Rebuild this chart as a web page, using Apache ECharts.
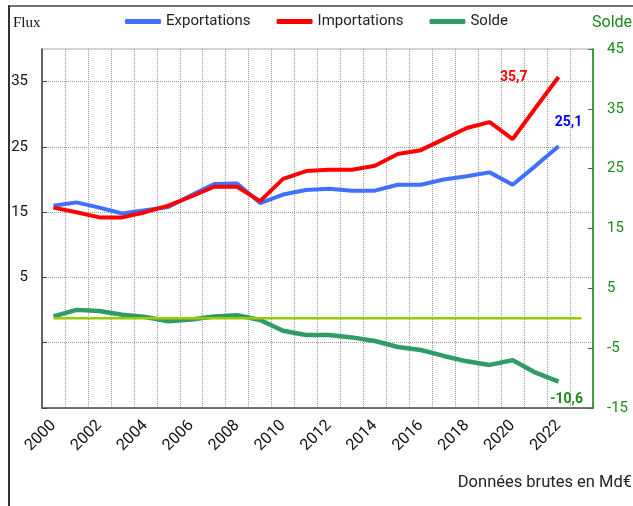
<!DOCTYPE html>
<html>
<head>
<meta charset="utf-8">
<script src="https://cdn.jsdelivr.net/npm/echarts@6/dist/echarts.min.js"></script>
<style>
html,body{margin:0;padding:0;background:#fff;}
#chart{width:633px;height:506px;}
</style>
</head>
<body>
<div id="chart"></div>
<script>
var years = ['2000','2001','2002','2003','2004','2005','2006','2007','2008','2009','2010','2011','2012','2013','2014','2015','2016','2017','2018','2019','2020','2021','2022','2023'];
var exportations = [16.0,16.5,15.7,14.8,15.3,15.8,17.6,19.3,19.4,16.4,17.7,18.4,18.6,18.3,18.3,19.2,19.2,20.0,20.5,21.1,19.2,22.1,25.1];
var importations = [15.7,15.0,14.2,14.2,15.0,16.0,17.4,18.9,18.9,16.7,20.1,21.3,21.5,21.5,22.1,23.9,24.5,26.2,27.9,28.8,26.2,31.0,35.7];
var solde = [0.3,1.4,1.2,0.6,0.2,-0.5,-0.2,0.3,0.5,-0.3,-2.1,-2.8,-2.8,-3.2,-3.8,-4.8,-5.3,-6.3,-7.2,-7.8,-7.0,-9.1,-10.6];
var zeroLine = [0,0,0,0,0,0,0,0,0,0,0,0,0,0,0,0,0,0,0,0,0,0,0,0];
var fluxTicks = [-15,-5,5,15,25,35];
var fluxLabels = [5,15,25,35];
var soldeTicks = [-15,-5,5,15,25,35,45];

function fr(v){ return String(v).replace('.', ','); }
function withLastLabel(arr, labelCfg){
  return arr.map(function(v,i){
    if(i === arr.length-1){ return {value:v, label:labelCfg}; }
    return v;
  });
}

var chart = echarts.init(document.getElementById('chart'), null, {renderer:'canvas'});
var font = 'Roboto';
chart.setOption({
  backgroundColor:'#ffffff',
  animation:false,
  textStyle:{fontFamily:font},
  legend:{
    top:9, left:'center',
    itemGap:26, itemWidth:36, itemHeight:5,
    textStyle:{fontSize:15, color:'#222', fontFamily:font},
    data:[
      {name:'Exportations', icon:'roundRect'},
      {name:'Importations', icon:'roundRect'},
      {name:'Solde', icon:'roundRect'}
    ]
  },
  grid:{left:42, right:40, top:49, bottom:98, containLabel:false, outerBoundsMode:'none',
        show:true, borderColor:'#aaa', borderWidth:1, backgroundColor:'transparent'},
  xAxis:{
    type:'category', data:years, boundaryGap:true,
    axisLine:{show:true, onZero:false, lineStyle:{color:'#555', width:1.5}},
    axisTick:{show:false},
    axisLabel:{interval:1, rotate:45, margin:15, fontSize:16, color:'#111', fontFamily:font},
    splitLine:{show:true, interval:0, lineStyle:{color:'#999', type:'dotted', width:1}}
  },
  yAxis:[
    {
      type:'value', min:-15, max:40, position:'left',
      axisLine:{show:true, lineStyle:{color:'#444', width:1.5}},
      axisTick:{show:true, inside:true, length:5, customValues:fluxTicks, lineStyle:{color:'#444'}},
      axisLabel:{customValues:fluxLabels, fontSize:15, color:'#111', margin:14, fontFamily:font},
      splitLine:{show:true, lineStyle:{color:'#999', type:'dotted', width:1}}
    },
    {
      type:'value', min:-15, max:45, position:'right',
      axisLine:{show:true, lineStyle:{color:'#1a8a1a', width:1.5}},
      axisTick:{show:true, inside:true, length:5, customValues:soldeTicks, lineStyle:{color:'#1a8a1a'}},
      axisLabel:{customValues:soldeTicks, fontSize:15, color:'#1a8a1a', margin:14, fontFamily:font},
      splitLine:{show:false}
    }
  ],
  graphic:[
    {type:'line', shape:{x1:9, y1:5, x2:9, y2:506}, style:{stroke:'#333', lineWidth:2}},
    {type:'line', shape:{x1:8, y1:6, x2:633, y2:6}, style:{stroke:'#444', lineWidth:1.5}},
    {type:'text', left:13, top:16, style:{text:'Flux', font:'15px "Liberation Serif"', fill:'#111'}},
    {type:'text', left:592, top:15, style:{text:'Solde', font:'16px Roboto', fill:'#1a8a1a'}},
    {type:'text', right:1, top:474, style:{text:'Données brutes en Md€', font:'16.5px Roboto', fill:'#222'}}
  ],
  series:[
    {
      name:'Exportations', type:'line', yAxisIndex:0, symbol:'circle', symbolSize:0, showSymbol:true,
      lineStyle:{color:'#4070FF', width:4}, itemStyle:{color:'#4070FF'},
      data:withLastLabel(exportations, {show:true, position:'top', distance:17, offset:[10,0],
        formatter:function(p){return fr(p.value);}, color:'#0000FF', fontWeight:'bold', fontSize:14, fontFamily:font}),
      z:3
    },
    {
      name:'Importations', type:'line', yAxisIndex:0, symbol:'circle', symbolSize:0, showSymbol:true,
      lineStyle:{color:'#FF0000', width:4}, itemStyle:{color:'#FF0000'},
      data:withLastLabel(importations, {show:true, position:'left', distance:32, offset:[1,0],
        formatter:function(p){return fr(p.value);}, color:'#FF0000', fontWeight:'bold', fontSize:14, fontFamily:font}),
      z:4
    },
    {
      name:'Solde', type:'line', yAxisIndex:1, symbol:'circle', symbolSize:0, showSymbol:true,
      lineStyle:{color:'#2E9B69', width:4.5}, itemStyle:{color:'#2E9B69'},
      data:withLastLabel(solde, {show:true, position:'bottom', distance:11, offset:[8,0],
        formatter:function(p){return fr(p.value);}, color:'#1a8a1a', fontWeight:'bold', fontSize:14, fontFamily:font}),
      z:3
    },
    {
      name:'zero', type:'line', yAxisIndex:1, symbol:'none', silent:true,
      lineStyle:{color:'#99CC00', width:2.5}, itemStyle:{color:'#99CC00'},
      data:zeroLine, z:5
    }
  ]
});
</script>
</body>
</html>
